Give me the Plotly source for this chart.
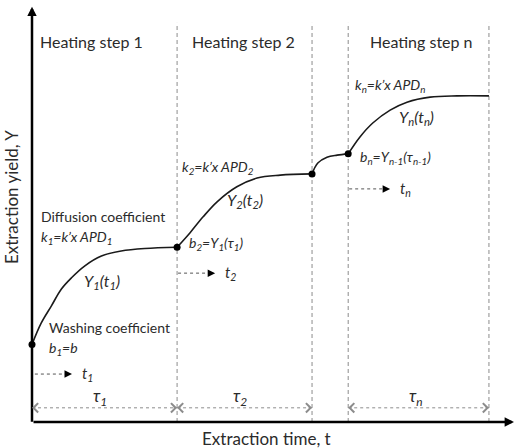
import plotly.graph_objects as go

# ---- data (arbitrary time / yield units) ----
step_bounds = [30.1, 58.1, 65.6, 94.8]          # dashed step boundaries (time)
step_top = 95.7                                  # top of dashed boundaries (yield)

seg1_t = [0, 1.9, 4.0, 6.1, 8.2, 10.9, 14.4, 18.5, 23.4, 30.1]
seg1_y = [18.6, 23.7, 27.8, 31.9, 34.6, 37.4, 39.8, 41.0, 41.6, 41.9]
seg2_t = [30.1, 32.8, 35.5, 38.4, 42.5, 46.7, 51.5, 58.1]
seg2_y = [41.9, 45.4, 49.2, 52.8, 56.4, 58.5, 59.2, 59.5]
seg3_t = [58.1, 59.3, 61.2, 63.3, 65.6]
seg3_y = [59.5, 62.1, 63.5, 64.0, 64.3]
seg4_t = [65.6, 68.0, 70.7, 74.3, 77.8, 82.6, 88.2, 94.8]
seg4_y = [64.3, 68.3, 71.7, 74.8, 76.7, 77.9, 78.2, 78.2]

dot_t = [0, 30.1, 58.1, 65.6]
dot_y = [18.6, 41.9, 59.5, 64.3]

step_titles = ["Heating step 1", "Heating step 2", "Heating step n"]
step_title_t = [12.4, 43.8, 80.8]

tau_spans = [(0, 30.1), (30.1, 58.1), (65.6, 94.8)]
tau_labels = ["τ<sub>1</sub>", "τ<sub>2</sub>", "τ<sub>n</sub>"]
tau_label_t = [14.1, 43.2, 79.7]

t_arrows = [(0.6, 8.3, 11.5), (30.3, 38.0, 35.7), (65.8, 74.3, 55.9)]
t_labels = ["t<sub>1</sub>", "t<sub>2</sub>", "t<sub>n</sub>"]

x_title = "Extraction time, t"
y_title = "Extraction yield, Y"

# ---- figure ----
FONT = "Lato"
TXT = "#2b2b2b"
fig = go.Figure()

for tt, yy in [(seg1_t, seg1_y), (seg2_t, seg2_y), (seg3_t, seg3_y), (seg4_t, seg4_y)]:
    fig.add_trace(go.Scatter(x=tt, y=yy, mode="lines",
                             line=dict(color="#1a1a1a", width=1.6, shape="spline", smoothing=1.0),
                             hoverinfo="skip", showlegend=False))

fig.add_trace(go.Scatter(x=dot_t, y=dot_y, mode="markers",
                         marker=dict(color="black", size=7), showlegend=False, hoverinfo="skip"))

shapes = []
for b in step_bounds:
    shapes.append(dict(type="line", x0=b, x1=b, y0=0, y1=step_top, xref="x", yref="y",
                       line=dict(color="#8c8c8c", width=1, dash="4px,3px"), layer="below"))

# tau dotted double arrows
tau_y = 3.4
for (a, b) in tau_spans:
    shapes.append(dict(type="line", x0=a, x1=b, y0=tau_y, y1=tau_y, xref="x", yref="y",
                       line=dict(color="#8c8c8c", width=1, dash="dot")))

# t dotted arrows
for (a, b, yv) in t_arrows:
    shapes.append(dict(type="line", x0=a, x1=b - 1.0, y0=yv, y1=yv, xref="x", yref="y",
                       line=dict(color="#555555", width=1, dash="dot")))

ann = []
# axes arrows
ann.append(dict(x=100, y=0, ax=0, ay=0, xref="x", yref="y", axref="x", ayref="y", text="",
                showarrow=True, arrowhead=2, arrowsize=0.75, arrowwidth=2.5, arrowcolor="black", standoff=0))
ann.append(dict(x=0, y=99.6, ax=0, ay=-0.3, xref="x", yref="y", axref="x", ayref="y", text="",
                showarrow=True, arrowhead=2, arrowsize=0.75, arrowwidth=2.5, arrowcolor="black", standoff=0))

# tau chevrons
for (a, b) in tau_spans:
    ann.append(dict(x=a, y=tau_y, ax=a + 1.0, ay=tau_y, xref="x", yref="y", axref="x", ayref="y",
                    text="", showarrow=True, arrowhead=4, arrowsize=2, arrowwidth=0.9,
                    arrowcolor="#8c8c8c", standoff=0))
    ann.append(dict(x=b, y=tau_y, ax=b - 1.0, ay=tau_y, xref="x", yref="y", axref="x", ayref="y",
                    text="", showarrow=True, arrowhead=4, arrowsize=2, arrowwidth=0.9,
                    arrowcolor="#8c8c8c", standoff=0))
for lab, tx in zip(tau_labels, tau_label_t):
    ann.append(dict(x=tx, y=5.9, xref="x", yref="y", text=f"<i>{lab}</i>", showarrow=False,
                    font=dict(family=FONT, size=17, color=TXT)))

# t arrows heads and labels
for (a, b, yv), lab in zip(t_arrows, t_labels):
    ann.append(dict(x=b, y=yv, ax=b - 1.2, ay=yv, xref="x", yref="y", axref="x", ayref="y",
                    text="", showarrow=True, arrowhead=2, arrowsize=1.5, arrowwidth=1,
                    arrowcolor="black", standoff=0))
    ann.append(dict(x=b + 1.6, y=yv, xref="x", yref="y", text=f"<i>{lab}</i>", showarrow=False,
                    xanchor="left", font=dict(family=FONT, size=15, color=TXT)))

# step titles
for s, tx in zip(step_titles, step_title_t):
    ann.append(dict(x=tx, y=91.2, xref="x", yref="y", text=s, showarrow=False,
                    font=dict(family=FONT, size=16, color=TXT)))

def lab(x, y, text, size=13):
    ann.append(dict(x=x, y=y, xref="x", yref="y", text=text, showarrow=False,
                    xanchor="left", yanchor="middle", font=dict(family=FONT, size=size, color=TXT)))

lab(1.4, 49.3, "Diffusion coefficient", 14)
lab(1.4, 44.2, "<i>k<sub>1</sub>=k’x APD<sub>1</sub></i>", 14)
lab(10.4, 33.8, "<i>Y<sub>1</sub>(t<sub>1</sub>)</i>", 16)
lab(3.2, 22.6, "Washing coefficient", 14)
lab(3.1, 17.6, "<i>b<sub>1</sub>=b</i>", 14)
lab(32.2, 42.8, "<i>b<sub>2</sub>=Y<sub>1</sub>(τ<sub>1</sub>)</i>", 14)
lab(30.7, 61.0, "<i>k<sub>2</sub>=k’x APD<sub>2</sub></i>", 14)
lab(40.0, 53.2, "<i>Y<sub>2</sub>(t<sub>2</sub>)</i>", 16)
lab(66.6, 80.8, "<i>k<sub>n</sub>=k’x APD<sub>n</sub></i>", 14)
lab(75.7, 73.1, "<i>Y<sub>n</sub>(t<sub>n</sub>)</i>", 16)
lab(67.6, 63.5, "<i>b<sub>n</sub>=Y<sub>n-1</sub>(τ<sub>n-1</sub>)</i>", 14)

# axis titles
ann.append(dict(x=48.6, y=-3.9, xref="x", yref="y", text=x_title, showarrow=False,
                font=dict(family=FONT, size=17, color=TXT)))
ann.append(dict(x=-4.1, y=54, xref="x", yref="y", text=y_title, showarrow=False, textangle=-90,
                font=dict(family=FONT, size=17, color=TXT)))

fig.update_layout(
    width=514, height=448,
    margin=dict(l=0, r=0, t=0, b=0),
    paper_bgcolor="white", plot_bgcolor="white",
    xaxis=dict(range=[-6.639, 100], visible=False, fixedrange=True),
    yaxis=dict(range=[-6.235, 101.2], visible=False, fixedrange=True),
    shapes=shapes, annotations=ann, showlegend=False,
)

fig.write_html("out.html", config={"displayModeBar": False},
               post_script="document.body.style.margin='0';document.body.style.padding='0';"
                           "document.body.style.overflow='hidden';")
